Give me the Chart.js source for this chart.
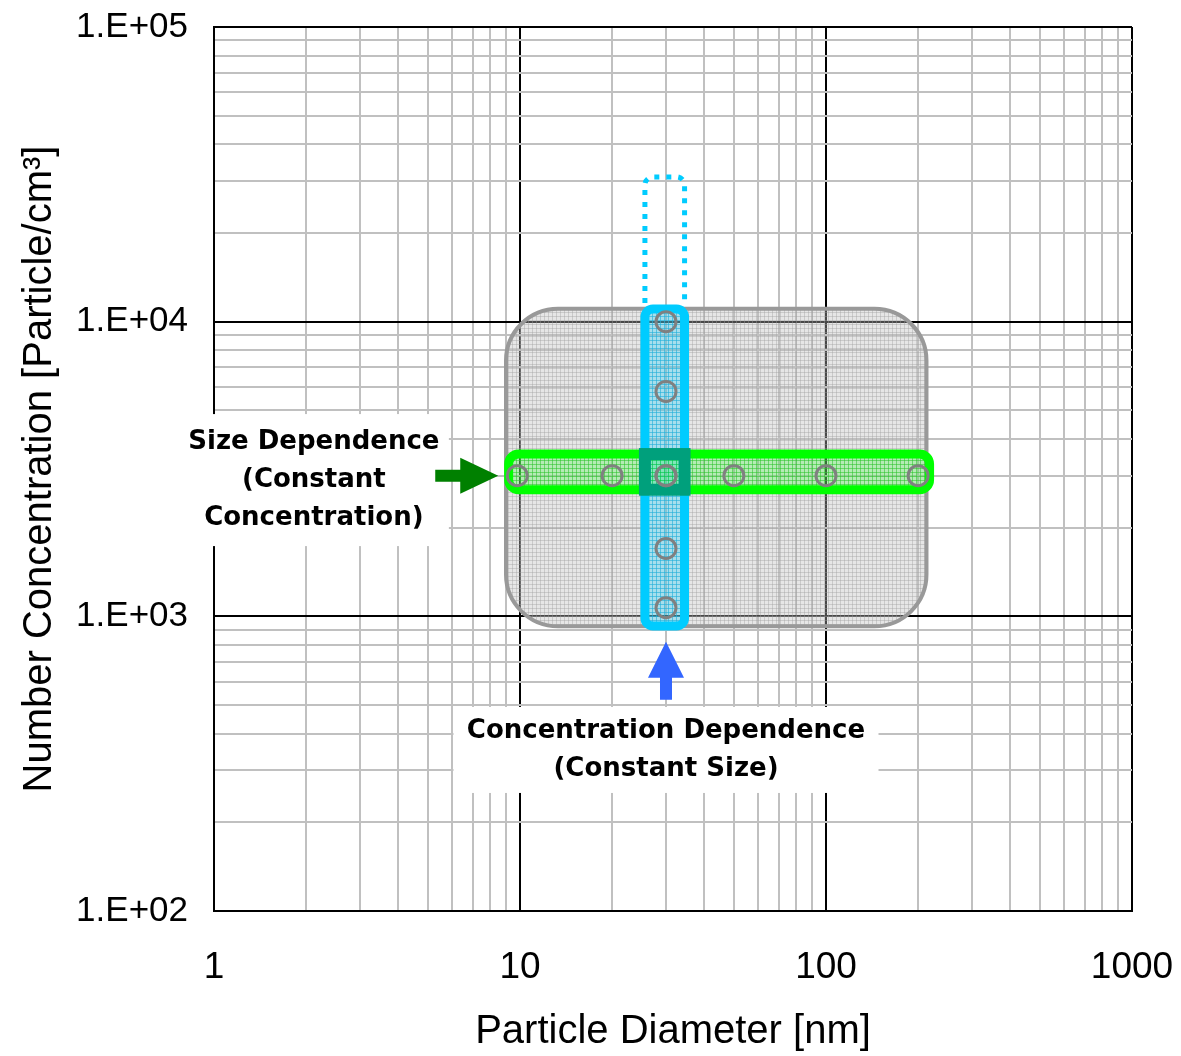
<!DOCTYPE html>
<html>
<head>
<meta charset="utf-8">
<script src="https://cdn.jsdelivr.net/npm/chart.js@4"></script>
<style>
  body { margin: 0; background: #fff; }
</style>
</head>
<body>
<canvas id="chart" width="1181" height="1056"></canvas>
<script>
// values
var sizeDiameters = [9.8, 20, 30, 50, 100, 200];
var sizeConcentration = [3000, 3000, 3000, 3000, 3000, 3000];
var concDiameters = [30, 30, 30, 30, 30];
var concValues = [1070, 1700, 3000, 5800, 10000];

var xTickLabels = [1, 10, 100, 1000];
var yTickValues = [100, 1000, 10000, 100000];
var yTickLabels = ['1.E+02', '1.E+03', '1.E+04', '1.E+05'];

// shaded regions, data units: [xmin, xmax, ymin, ymax]
var fullRange = [9.0, 213, 925, 11060];
var sizeRange = [9.18, 218, 2689, 3554];
var concRange = [25.6, 34.5, 928, 11040];
var concExtraTop = 31000;

// label / arrow anchors, data units: [x, y]
var sizeLabelAt = [2.12, 2900];
var concLabelAt = [30, 352];
var sizeArrowTip = [8.49, 3000];
var concArrowTip = [30, 820];

var sizeLabel = ['Size Dependence', '(Constant', 'Concentration)'];
var concLabel = ['Concentration Dependence', '(Constant Size)'];

Chart.defaults.font.family = '"Liberation Sans", Arial, sans-serif';
Chart.defaults.color = '#000';

function makePattern(ctx, bg, line) {
  var c = document.createElement('canvas');
  c.width = 4; c.height = 4;
  var g = c.getContext('2d');
  g.fillStyle = bg; g.fillRect(0, 0, 4, 4);
  g.fillStyle = line; g.fillRect(0, 0, 4, 1); g.fillRect(0, 0, 1, 4);
  return ctx.createPattern(c, 'repeat');
}

function rrect(ctx, b, r) {
  ctx.beginPath();
  ctx.moveTo(b.l + r, b.t);
  ctx.arcTo(b.r, b.t, b.r, b.b, r);
  ctx.arcTo(b.r, b.b, b.l, b.b, r);
  ctx.arcTo(b.l, b.b, b.l, b.t, r);
  ctx.arcTo(b.l, b.t, b.r, b.t, r);
  ctx.closePath();
}

function logTicks(min, max) {
  var t = [];
  for (var d = min; d < max; d *= 10) {
    for (var m = 1; m < 10; m++) t.push({ value: d * m, major: m === 1 });
  }
  t.push({ value: max, major: true });
  return t;
}

var regions = {
  id: 'regions',
  beforeDatasetsDraw: function (chart) {
    var ctx = chart.ctx, x = chart.scales.x, y = chart.scales.y;
    function box(r) {
      return { l: x.getPixelForValue(r[0]), r: x.getPixelForValue(r[1]),
               t: y.getPixelForValue(r[3]), b: y.getPixelForValue(r[2]) };
    }
    var grayPat = makePattern(ctx, 'rgba(190,190,190,0.38)', 'rgba(160,160,160,0.4)');
    var cyanPat = makePattern(ctx, 'rgba(0,204,255,0.28)', 'rgba(0,180,235,0.4)');
    var greenPat = makePattern(ctx, 'rgba(0,255,0,0.22)', 'rgba(0,210,0,0.32)');
    ctx.save();

    var a = box(fullRange);
    rrect(ctx, a, 52);
    ctx.fillStyle = grayPat; ctx.fill();
    ctx.lineWidth = 4; ctx.strokeStyle = '#999999'; ctx.stroke();

    var c = box(concRange), s = box(sizeRange);
    var top = y.getPixelForValue(concExtraTop);

    // dotted extension above the concentration bar
    ctx.setLineDash([5, 7]);
    ctx.lineWidth = 5; ctx.strokeStyle = '#00ccff';
    ctx.beginPath();
    ctx.moveTo(c.l, c.t - 6);
    ctx.arcTo(c.l, top, c.r, top, 8);
    ctx.arcTo(c.r, top, c.r, c.t, 8);
    ctx.lineTo(c.r, c.t - 6);
    ctx.stroke();
    ctx.setLineDash([]);

    rrect(ctx, c, 8); ctx.fillStyle = cyanPat; ctx.fill();
    rrect(ctx, s, 10); ctx.fillStyle = greenPat; ctx.fill();
    ctx.lineWidth = 9;
    rrect(ctx, c, 8); ctx.strokeStyle = '#00ccff'; ctx.stroke();
    rrect(ctx, s, 10); ctx.strokeStyle = '#00ff00'; ctx.stroke();

    // overlap of the two bars
    ctx.lineWidth = 12; ctx.strokeStyle = '#00a07c';
    ctx.strokeRect(c.l, s.t, c.r - c.l, s.b - s.t);
    ctx.restore();
  },
  afterDraw: function (chart) {
    var ctx = chart.ctx, x = chart.scales.x, y = chart.scales.y;
    function pt(p) { return [x.getPixelForValue(p[0]), y.getPixelForValue(p[1])]; }
    ctx.save();

    function label(lines, at, w, h) {
      var p = pt(at);
      ctx.fillStyle = '#fff';
      ctx.fillRect(p[0] - w / 2, p[1] - h / 2, w, h);
      ctx.fillStyle = '#000';
      ctx.font = 'bold 26px "DejaVu Sans", Verdana, sans-serif';
      ctx.textAlign = 'center'; ctx.textBaseline = 'middle';
      var y0 = p[1] - (lines.length - 1) * 19;
      lines.forEach(function (t, i) { ctx.fillText(t, p[0], y0 + i * 38); });
    }
    label(sizeLabel, sizeLabelAt, 270, 132);
    label(concLabel, concLabelAt, 425, 86);

    // arrows: tip, direction, length, head length, head half width, shaft half width
    function arrow(tip, dx, dy, len, hl, hw, sw, color) {
      var p = pt(tip);
      var nx = -dy, ny = dx;
      ctx.fillStyle = color;
      ctx.beginPath();
      ctx.moveTo(p[0], p[1]);
      ctx.lineTo(p[0] - dx * hl + nx * hw, p[1] - dy * hl + ny * hw);
      ctx.lineTo(p[0] - dx * hl + nx * sw, p[1] - dy * hl + ny * sw);
      ctx.lineTo(p[0] - dx * len + nx * sw, p[1] - dy * len + ny * sw);
      ctx.lineTo(p[0] - dx * len - nx * sw, p[1] - dy * len - ny * sw);
      ctx.lineTo(p[0] - dx * hl - nx * sw, p[1] - dy * hl - ny * sw);
      ctx.lineTo(p[0] - dx * hl - nx * hw, p[1] - dy * hl - ny * hw);
      ctx.closePath();
      ctx.fill();
    }
    arrow(sizeArrowTip, 1, 0, 63, 38, 18, 6, '#008000');
    arrow(concArrowTip, 0, -1, 58, 36, 18, 6, '#3366ff');
    ctx.restore();
  }
};

var ctx = document.getElementById('chart');

new Chart(ctx, {
  type: 'scatter',
  data: {
    datasets: [{
      label: 'Size Dependence',
      data: sizeDiameters.map(function (d, i) { return { x: d, y: sizeConcentration[i] }; })
    }, {
      label: 'Concentration Dependence',
      data: concDiameters.map(function (d, i) { return { x: d, y: concValues[i] }; })
    }]
  },
  options: {
    responsive: false,
    animation: false,
    devicePixelRatio: 1,
    layout: { padding: { left: 0, top: 27, right: 49, bottom: 0 } },
    elements: {
      point: { radius: 10, borderWidth: 3, borderColor: '#808080', backgroundColor: 'rgba(0,0,0,0)' }
    },
    plugins: { legend: { display: false }, tooltip: { enabled: false } },
    scales: {
      x: {
        type: 'logarithmic', min: 1, max: 1000,
        afterBuildTicks: function (s) { s.ticks = logTicks(1, 1000); },
        afterFit: function (s) { s.height = 145; s.paddingLeft = 0; s.paddingRight = 0; },
        ticks: {
          autoSkip: false, maxRotation: 0, padding: 35,
          font: { size: 37 },
          callback: function (v) { return xTickLabels.indexOf(v) >= 0 ? String(v) : ''; }
        },
        grid: {
          drawTicks: false, lineWidth: 2,
          color: function (c) { return c.tick && c.tick.major ? '#000' : '#c0c0c0'; }
        },
        border: { display: true, color: '#000', width: 2 },
        title: { display: true, text: 'Particle Diameter [nm]', font: { size: 40 }, padding: { top: 0, bottom: 0 } }
      },
      y: {
        type: 'logarithmic', min: 100, max: 100000,
        afterBuildTicks: function (s) { s.ticks = logTicks(100, 100000); },
        afterFit: function (s) { s.width = 214; s.paddingTop = 0; s.paddingBottom = 0; },
        ticks: {
          autoSkip: false, padding: 26,
          font: { size: 35 },
          callback: function (v) {
            var i = yTickValues.indexOf(v);
            return i >= 0 ? yTickLabels[i] : '';
          }
        },
        grid: {
          drawTicks: false, lineWidth: 2,
          color: function (c) { return c.tick && c.tick.major ? '#000' : '#c0c0c0'; }
        },
        border: { display: true, color: '#000', width: 2 },
        title: { display: true, text: 'Number Concentration [Particle/cm³]', font: { size: 40 }, padding: { top: 16, bottom: 0 } }
      }
    }
  },
  plugins: [regions]
});
</script>
</body>
</html>
